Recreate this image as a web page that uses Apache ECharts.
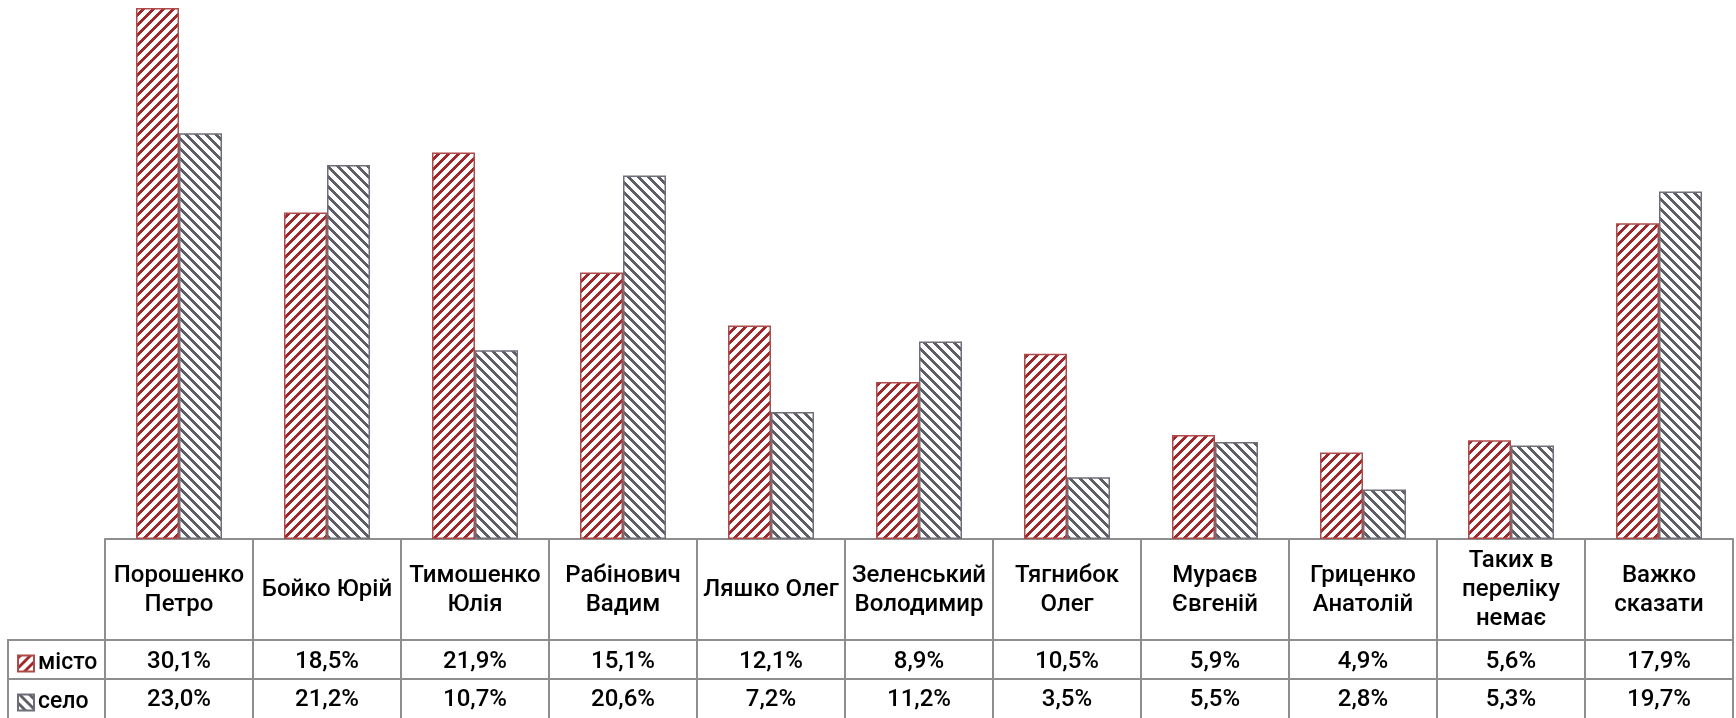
<!DOCTYPE html>
<html><head><meta charset="utf-8">
<script src="https://cdn.jsdelivr.net/npm/echarts@6/dist/echarts.min.js"></script>
<style>html,body{margin:0;padding:0;background:#fff}#c{width:1736px;height:718px}</style>
</head><body><div id="c"></div>
<script>
const categories = ["Порошенко\nПетро","Бойко Юрій","Тимошенко\nЮлія","Рабінович\nВадим","Ляшко Олег","Зеленський\nВолодимир","Тягнибок\nОлег","Мураєв\nЄвгеній","Гриценко\nАнатолій","Таких в\nпереліку\nнемає","Важко\nсказати"];
const seriesNames = ["місто","село"];
const misto = [30.1,18.5,21.9,15.1,12.1,8.9,10.5,5.9,4.9,5.6,17.9];
const selo = [23.0,21.2,10.7,20.6,7.2,11.2,3.5,5.5,2.8,5.3,19.7];

const RED = '#a0282a', GRAY = '#5e5e68', LINE = '#8e8e8e';
function pattern(color, dir){
  const p = 10, c = document.createElement('canvas');
  c.width = p; c.height = p;
  const ctx = c.getContext('2d');
  ctx.fillStyle = '#fff'; ctx.fillRect(0,0,p,p);
  ctx.fillStyle = color;
  for (let x=0;x<p;x++) for (let y=0;y<p;y++){
    const v = dir>0 ? (x+y)%p : ((x-y)%p+p)%p;
    if (v<4) ctx.fillRect(x,y,1,1);
  }
  return {image:c, repeat:'repeat'};
}
const fmt = v => v.toFixed(1).replace('.', ',') + '%';
const FONT = 'Roboto';
const chart = echarts.init(document.getElementById('c'));
const labelBase = {color:'#000', fontFamily:FONT, fontSize:24, fontWeight:500, interval:0, verticalAlign:'middle', lineHeight:29};
const legendText = {fontFamily:FONT, fontSize:23, fontWeight:500, color:'#000', padding:[0,0,0,-1]};
chart.setOption({
  animation:false,
  grid:{left:105, right:3, top:0, bottom:179},
  yAxis:{type:'value', min:0, max:30.55, show:false},
  xAxis:[
    {type:'category', data:categories, position:'bottom',
     axisLine:{lineStyle:{color:LINE, width:2}},
     axisTick:{show:true, interval:0, length:179, lineStyle:{color:LINE, width:2}},
     axisLabel:Object.assign({}, labelBase, {margin:51})},
    {type:'category', data:misto.map(fmt), position:'bottom', offset:101,
     axisLine:{lineStyle:{color:LINE, width:2}}, axisTick:{show:false},
     axisLabel:Object.assign({}, labelBase, {margin:22})},
    {type:'category', data:selo.map(fmt), position:'bottom', offset:140,
     axisLine:{lineStyle:{color:LINE, width:2}}, axisTick:{show:false},
     axisLabel:Object.assign({}, labelBase, {margin:21})}
  ],
  legend:[
    {data:[seriesNames[0]], left:17, top:652, padding:0, itemWidth:16, itemHeight:16, icon:'rect', itemGap:0,
     textStyle:legendText},
    {data:[seriesNames[1]], left:17, top:691, padding:0, itemWidth:16, itemHeight:16, icon:'rect', itemGap:0,
     textStyle:legendText}
  ],
  graphic:[
    {type:'line', shape:{x1:8,y1:640,x2:106,y2:640}, style:{stroke:LINE, lineWidth:2}},
    {type:'line', shape:{x1:8,y1:679,x2:106,y2:679}, style:{stroke:LINE, lineWidth:2}},
    {type:'line', shape:{x1:8,y1:639,x2:8,y2:718}, style:{stroke:LINE, lineWidth:2}}
  ],
  series:[
    {name:seriesNames[0], type:'bar', data:misto, barWidth:43, barGap:'0%',
     itemStyle:{color:pattern(RED,1), borderColor:'#b04a4a', borderWidth:1.5}},
    {name:seriesNames[1], type:'bar', data:selo, barWidth:43, barGap:'0%',
     itemStyle:{color:pattern(GRAY,-1), borderColor:'#6e6e78', borderWidth:1.5}}
  ]
});
</script></body></html>
